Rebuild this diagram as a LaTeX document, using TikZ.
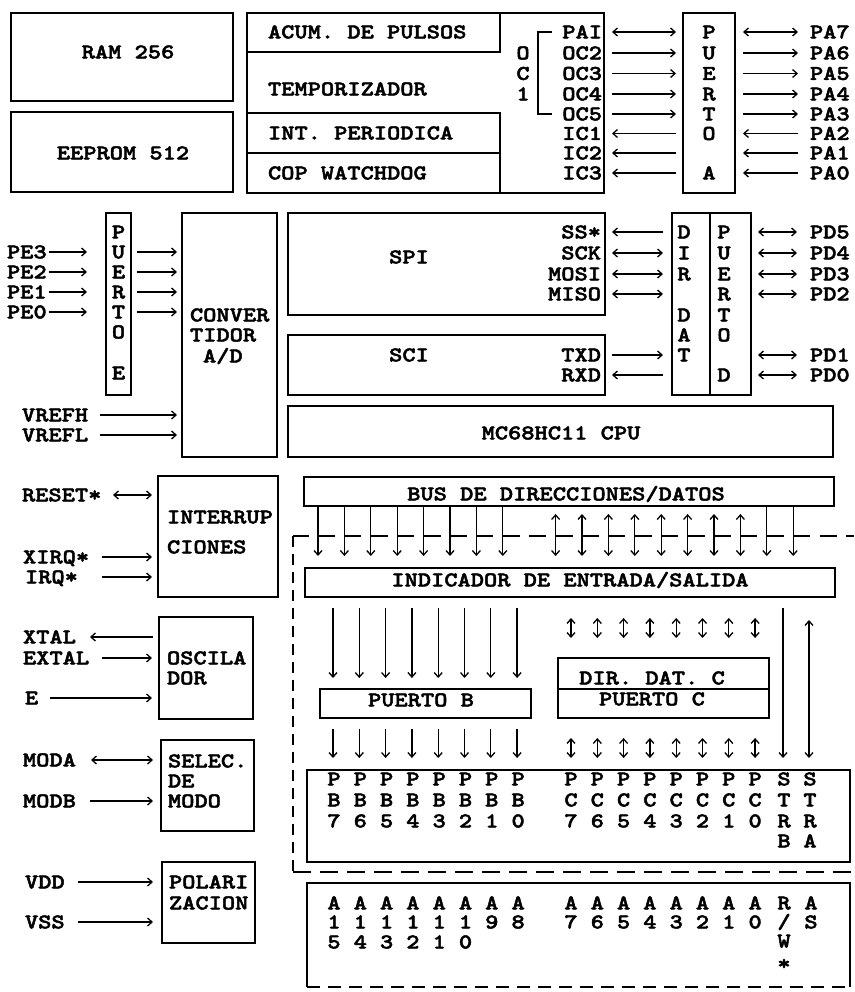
\documentclass[tikz,border=0pt]{standalone}
\usepackage{fontspec}
\newfontfamily\cour{lmmonolt10-bold.otf}[FakeStretch=1.2,FakeBold=2.2]
\usetikzlibrary{arrows.meta}
\tikzset{
  box/.style={draw, line width=1.8pt, inner sep=0pt, outer sep=0pt},
  lbl/.style={font=\cour\fontsize{21}{20}\selectfont, inner sep=0pt, outer sep=0pt, text height=12.8pt, text depth=0pt},
  tipb/.tip={Straight Barb[length=4.5pt,width=8pt]},
  arr/.style={line width=1.3pt, -tipb},
  larr/.style={line width=1.3pt, tipb-},
  darr/.style={line width=1.3pt, tipb-tipb},
  thin/.style={line width=1.3pt},
  dashtop/.style={line width=1.7pt, dash pattern=on 17pt off 9.4pt, dash phase=1.4pt},
  dashv/.style={line width=1.7pt, dash pattern=on 11pt off 7pt},
  dashh/.style={line width=1.7pt, dash pattern=on 18pt off 9pt},
}
\newcommand\mkbox[5]{\node[box, anchor=north west, minimum width={(#4-#2)*1pt}, minimum height={(#5-#3)*1pt}] (#1) at (#2,#3) {};}
\begin{document}
\begin{tikzpicture}[x=1pt,y=-1pt]
\fill[white] (0,0) rectangle (854,992);
\useasboundingbox (0,0) rectangle (854,992);

% ---------------- top section ----------------
\mkbox{ram}{11}{13}{233}{101}
\mkbox{eeprom}{11}{112}{233}{192}
\mkbox{timer}{247}{13}{604}{193}
\mkbox{acum}{247}{13}{500}{52}
\mkbox{intper}{247}{113}{500}{153}
\mkbox{cop}{247}{153}{500}{193}
\mkbox{portA}{683}{13}{735}{193}

\node[lbl] (ramt) at (128,52) {RAM 256};
\node[lbl] (eept) at (123,153) {EEPROM 512};
\node[lbl,anchor=west] (acumt) at (268,32) {ACUM. DE PULSOS};
\node[lbl,anchor=west] (tempt) at (268,89) {TEMPORIZADOR};
\node[lbl,anchor=west] (intt) at (268,133) {INT. PERIODICA};
\node[lbl,anchor=west] (copt) at (268,173) {COP WATCHDOG};

\foreach \tx/\yy/\st [count=\i] in {PAI/32/darr, OC2/53/arr, OC3/73.5/arr, OC4/94/arr, OC5/114/arr, IC1/133.5/larr, IC2/153/larr, IC3/173/larr} {
  \node[lbl, anchor=east] (tm\i) at (602,\yy) {\tx};
  \draw[\st] ([xshift=10pt]tm\i.east) -- ([xshift=-7pt]portA.west |- tm\i.east);
}
\foreach \ch/\yy [count=\i] in {O/53, C/73.5, 1/94} \node[lbl] (oc\i) at (523,\yy) {\ch};
\draw[thin] (552,32) -- (538,32) -- (538,114) -- (552,114);

\foreach \ch/\yy [count=\i] in {P/32, U/53, E/73.5, R/94, T/114, O/133.5, A/173} \node[lbl] (pA\i) at (709,\yy) {\ch};

\foreach \tx/\yy/\st [count=\i] in {PA7/32/darr, PA6/53/arr, PA5/73.5/arr, PA4/94/arr, PA3/114/arr, PA2/133.5/larr, PA1/153/larr, PA0/173/larr} {
  \node[lbl, anchor=west] (pa\i) at (810,\yy) {\tx};
  \draw[\st] ([xshift=8pt]portA.east |- pa\i.west) -- ([xshift=-12pt]pa\i.west);
}

% ---------------- middle section ----------------
\mkbox{portE}{106}{213}{131}{395}
\mkbox{adc}{182}{213}{277}{457}
\mkbox{spi}{288}{213}{605}{315}
\mkbox{sci}{288}{335}{605}{395}
\mkbox{cpu}{288}{406}{833}{457}
\mkbox{dirdat}{672}{213}{710}{395}
\mkbox{portD}{710}{213}{751}{395}

\foreach \ch/\yy [count=\i] in {P/232, U/252, E/272, R/292, T/312, O/332, E/373} \node[lbl] (pE\i) at (118.5,\yy) {\ch};
\foreach \tx/\yy [count=\i] in {PE3/252, PE2/272, PE1/292, PE0/312} {
  \node[lbl, anchor=west] (pe\i) at (7,\yy) {\tx};
  \draw[arr] ([xshift=2pt]pe\i.east) -- ([xshift=-19pt]portE.west |- pe\i.east);
  \draw[arr] ([xshift=6pt]portE.east |- pe\i.east) -- ([xshift=-5pt]adc.west |- pe\i.east);
}
\node[lbl,anchor=west] (adc1) at (190,315) {CONVER};
\node[lbl,anchor=west] (adc2) at (190,335) {TIDOR};
\node[lbl,anchor=west] (adc3) at (203,356) {A/D};
\foreach \tx/\yy [count=\i] in {VREFH/415, VREFL/435} {
  \node[lbl,anchor=west] (vr\i) at (22,\yy) {\tx};
  \draw[arr] ([xshift=-82pt]adc.west |- vr\i.east) -- ([xshift=-5pt]adc.west |- vr\i.east);
}
\node[lbl] (spit) at (409,257) {SPI};
\node[lbl] (scit) at (409,355) {SCI};
\node[lbl] (cput) at (561,433) {MC68HC11 CPU};

\foreach \tx/\yy/\st [count=\i] in {SS*/232/larr, SCK/253/darr, MOSI/274/darr, MISO/294/darr, TXD/355/arr, RXD/375/larr} {
  \node[lbl,anchor=east] (sg\i) at (601,\yy) {\tx};
  \draw[\st] ([xshift=11pt]sg\i.east) -- ([xshift=-9pt]dirdat.west |- sg\i.east);
}
\foreach \ch/\yy [count=\i] in {D/232, I/253, R/274, D/315, A/335, T/355} \node[lbl] (dd\i) at (684,\yy) {\ch};
\foreach \ch/\yy [count=\i] in {P/232, U/253, E/274, R/294, T/315, O/335, D/375} \node[lbl] (pD\i) at (724,\yy) {\ch};
\foreach \tx/\yy [count=\i] in {PD5/232, PD4/253, PD3/274, PD2/294, PD1/355, PD0/375} {
  \node[lbl,anchor=west] (pd\i) at (810,\yy) {\tx};
  \draw[darr] ([xshift=7pt]portD.east |- pd\i.west) -- ([xshift=-13pt]pd\i.west);
}

% ---------------- lower left ----------------
\mkbox{intr}{158}{476}{278}{597}
\mkbox{osc}{159}{617}{253}{719}
\mkbox{sel}{161}{740}{254}{831}
\mkbox{pol}{162}{862}{255}{943}

\node[lbl,anchor=west] (intr1) at (167,517) {INTERRUP};
\node[lbl,anchor=west] (intr2) at (167,547) {CIONES};
\node[lbl,anchor=west] (osc1) at (167,658) {OSCILA};
\node[lbl,anchor=west] (osc2) at (167,678) {DOR};
\node[lbl,anchor=west] (sel1) at (168,761) {SELEC.};
\node[lbl,anchor=west] (sel2) at (168,781) {DE};
\node[lbl,anchor=west] (sel3) at (168,801) {MODO};
\node[lbl,anchor=west] (pol1) at (169,882) {POLARI};
\node[lbl,anchor=west] (pol2) at (169,903) {ZACION};

\node[lbl,anchor=west] (rst) at (22,495) {RESET*};
\draw[darr] ([xshift=-45pt]intr.west |- rst.east) -- ([xshift=-6pt]intr.west |- rst.east);
\node[lbl,anchor=west] (xirq) at (23,557) {XIRQ*};
\draw[arr] ([xshift=-56pt]intr.west |- xirq.east) -- ([xshift=-6pt]intr.west |- xirq.east);
\node[lbl,anchor=west] (irq) at (25,577) {IRQ*};
\draw[arr] ([xshift=-56pt]intr.west |- irq.east) -- ([xshift=-6pt]intr.west |- irq.east);

\node[lbl,anchor=west] (xtal) at (23,637) {XTAL};
\draw[larr] ([xshift=-69pt]osc.west |- xtal.east) -- ([xshift=-6pt]osc.west |- xtal.east);
\node[lbl,anchor=west] (extal) at (23,658) {EXTAL};
\draw[arr] ([xshift=-57pt]osc.west |- extal.east) -- ([xshift=-7pt]osc.west |- extal.east);
\node[lbl,anchor=west] (eclk) at (25,698) {E};
\draw[arr] ([xshift=-109pt]osc.west |- eclk.east) -- ([xshift=-7pt]osc.west |- eclk.east);

\node[lbl,anchor=west] (moda) at (23,760) {MODA};
\draw[darr] ([xshift=-70pt]sel.west |- moda.east) -- ([xshift=-8pt]sel.west |- moda.east);
\node[lbl,anchor=west] (modb) at (23,801) {MODB};
\draw[arr] ([xshift=-71pt]sel.west |- modb.east) -- ([xshift=-8pt]sel.west |- modb.east);

\node[lbl,anchor=west] (vdd) at (25,882) {VDD};
\draw[arr] ([xshift=-84pt]pol.west |- vdd.east) -- ([xshift=-9pt]pol.west |- vdd.east);
\node[lbl,anchor=west] (vss) at (25,922) {VSS};
\draw[arr] ([xshift=-84pt]pol.west |- vss.east) -- ([xshift=-9pt]pol.west |- vss.east);

% ---------------- lower right ----------------
\mkbox{bus}{304}{477}{834}{506}
\mkbox{ind}{305}{568}{835}{597}
\mkbox{portB}{320}{689}{531}{718}
\mkbox{dirc}{558}{658}{769}{689}
\mkbox{portC}{558}{689}{769}{718}
\mkbox{pins}{307}{770}{850}{862}
\node[inner sep=0pt, outer sep=0pt, anchor=north west, minimum width=543pt, minimum height=104pt] (addr) at (307,883) {};
\draw[box] (addr.south west) -- (addr.north west) -- (addr.north east) -- (addr.south east);
\draw[box, dash pattern=on 13pt off 8pt] (addr.south west) -- (addr.south east);

\node[lbl] (bust) at (566,494) {BUS DE DIRECCIONES/DATOS};
\node[lbl] (indt) at (570,580) {INDICADOR DE ENTRADA/SALIDA};
\node[lbl] (portbt) at (421,700) {PUERTO B};
\node[lbl] (dirct) at (652,678) {DIR. DAT. C};
\node[lbl] (portct) at (652,699) {PUERTO C};

% dashed frame
\coordinate (dcorner) at (293,536);
\draw[dashtop] (dcorner) -- (854,536);
\draw[dashv] (dcorner) -- (293,872);
\draw[dashh] (293,872) -- (854,872);

% bus verticals
\foreach \k in {0,...,7,17,18} {
  \pgfmathsetmacro\xx{318+26.4*\k}
  \draw[arr, shorten >=12pt] (\xx,0 |- bus.south) -- (\xx,0 |- ind.north);
}
\foreach \k in {9,...,16} {
  \pgfmathsetmacro\xx{318+26.4*\k}
  \draw[darr, shorten <=8pt, shorten >=12pt] (\xx,0 |- bus.south) -- (\xx,0 |- ind.north);
}

% port B / port C arrows
\foreach \j in {0,...,7} {
  \pgfmathsetmacro\xx{333+26.3*\j}
  \draw[arr, shorten <=11pt, shorten >=11pt] (\xx,0 |- ind.south) -- (\xx,0 |- portB.north);
  \draw[arr, shorten <=11pt, shorten >=12pt] (\xx,0 |- portB.south) -- (\xx,0 |- pins.north);
  \pgfmathsetmacro\xc{571+26.3*\j}
  \draw[darr, shorten <=21pt, shorten >=20pt] (\xc,0 |- ind.south) -- (\xc,0 |- dirc.north);
  \draw[darr, shorten <=20pt, shorten >=12pt] (\xc,0 |- portC.south) -- (\xc,0 |- pins.north);
}
\draw[arr, shorten <=11pt, shorten >=12pt] (783,0 |- ind.south) -- (783,0 |- pins.north);
\draw[darr, shorten <=23pt, shorten >=12pt] (809,0 |- ind.south) -- (809,0 |- pins.north);

% pin labels
\foreach \j in {0,...,7} {
  \pgfmathsetmacro\xx{334+26.3*\j}
  \pgfmathtruncatemacro\bitn{7-\j}
  \node[lbl] (pbP\j) at (\xx,779) {P};
  \node[lbl] (pbB\j) at (\xx,800) {B};
  \node[lbl] (pbN\j) at (\xx,821) {\bitn};
  \pgfmathsetmacro\xc{571+26.3*\j}
  \node[lbl] (pcP\j) at (\xc,779) {P};
  \node[lbl] (pcC\j) at (\xc,800) {C};
  \node[lbl] (pcN\j) at (\xc,821) {\bitn};
  \node[lbl] (alA\j) at (\xx,903) {A};
  \node[lbl] (ahA\j) at (\xc,903) {A};
  \node[lbl] (ahN\j) at (\xc,922) {\bitn};
}
\foreach \ch/\yy [count=\i] in {S/779, T/800, R/821, B/841} \node[lbl] (strb\i) at (784,\yy) {\ch};
\foreach \ch/\yy [count=\i] in {S/779, T/800, R/821, A/841} \node[lbl] (stra\i) at (810,\yy) {\ch};
\foreach \d/\j in {1/0,1/1,1/2,1/3,1/4,1/5,9/6,8/7} {
  \pgfmathsetmacro\xx{334+26.3*\j}
  \node[lbl] (alD\j) at (\xx,922) {\d};
}
\foreach \d/\j in {5/0,4/1,3/2,2/3,1/4,0/5} {
  \pgfmathsetmacro\xx{334+26.3*\j}
  \node[lbl] (alE\j) at (\xx,942) {\d};
}
\node[lbl] (rw1) at (784,903) {R};
\node[lbl] (rw2) at (784,922) {/};
\node[lbl] (rw3) at (784,941) {W};
\node[lbl, text height=8pt] (rw4) at (784,966) {*};
\foreach \ch/\yy [count=\i] in {A/903, S/922} \node[lbl] (as\i) at (811,\yy) {\ch};
\end{tikzpicture}
\end{document}
